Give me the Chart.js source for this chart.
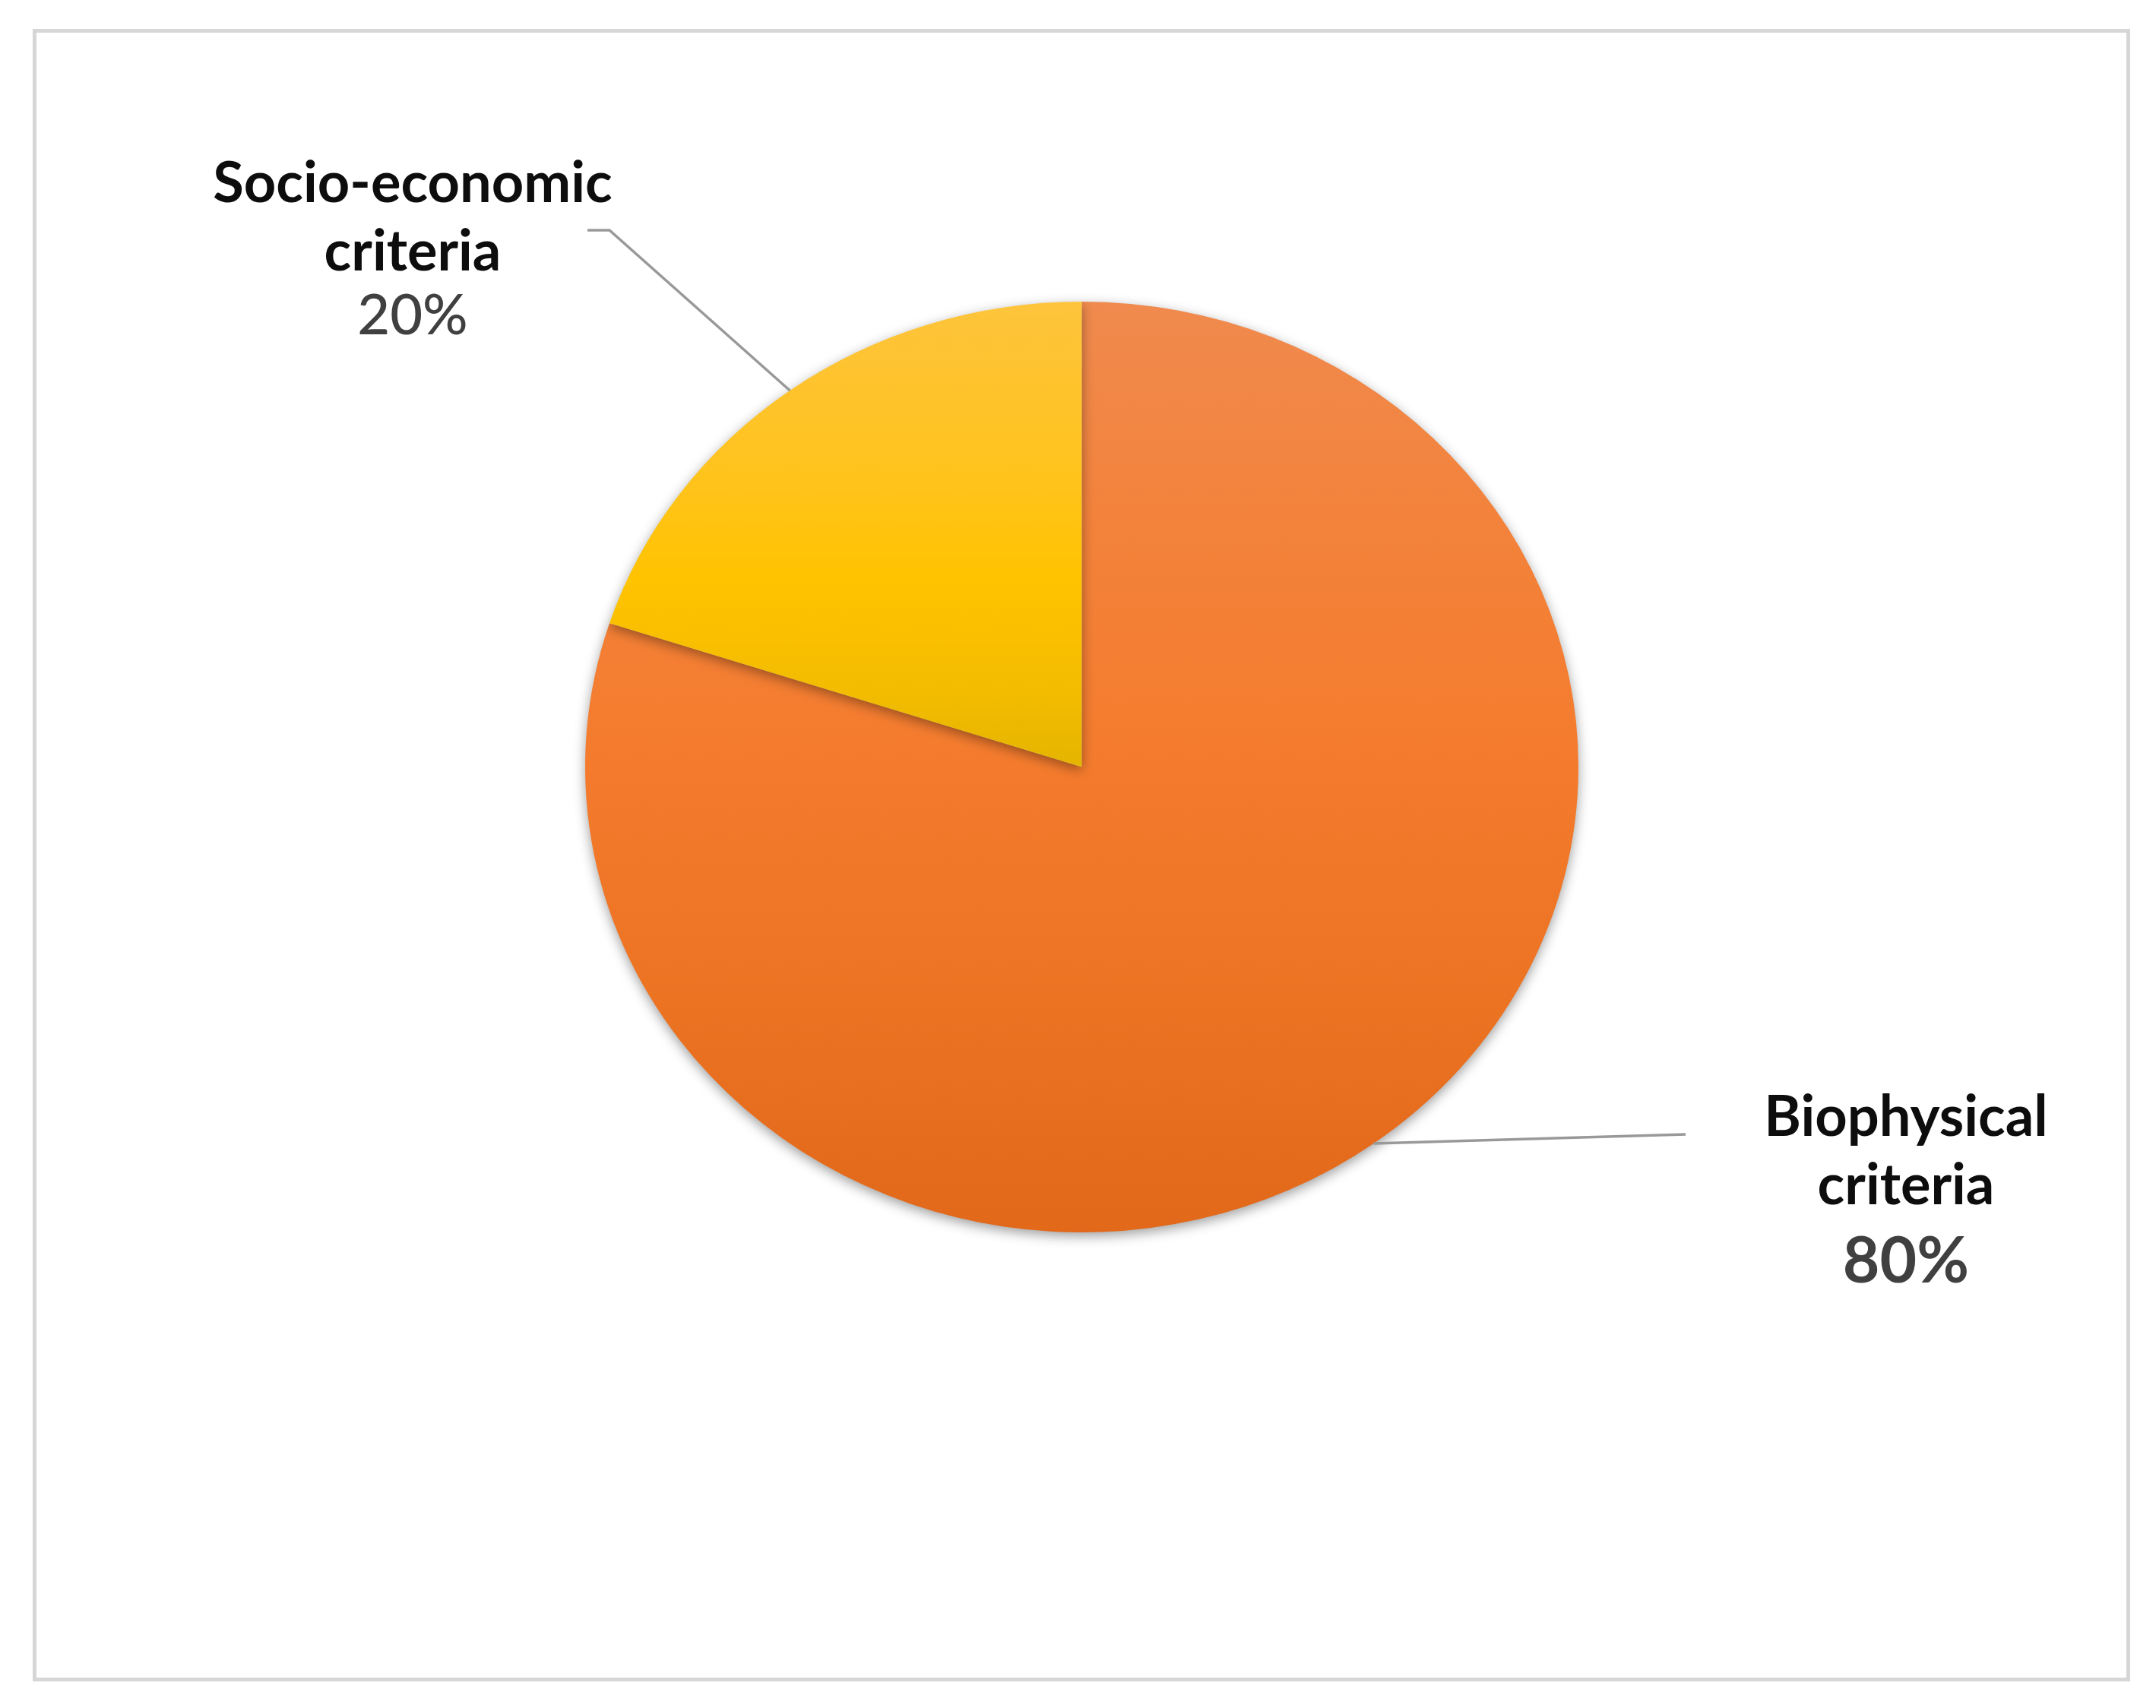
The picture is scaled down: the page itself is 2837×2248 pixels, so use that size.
<!DOCTYPE html>
<html>
<head>
<meta charset="utf-8">
<script src="https://cdn.jsdelivr.net/npm/chart.js@4.4.0/dist/chart.umd.min.js"></script>
<style>
    html, body { margin: 0; padding: 0; background: #fff; }
    #wrap { position: relative; width: 2837px; height: 2248px; }
    #wrap canvas { position: absolute; left: 0; top: 0; }
    #frame {
        position: absolute; left: 43px; top: 38px;
        width: 2760px; height: 2175px; box-sizing: border-box;
        border: 5px solid #d6d6d6; pointer-events: none;
    }
</style>
</head>
<body>
<div id="wrap">
    <canvas id="pieChart" width="2837" height="2248"></canvas>
    <div id="frame"></div>
</div>
<script>
// Data
const categories = ['Biophysical criteria', 'Socio-economic criteria'];
const shares = [80, 20];
const labelLines = [['Biophysical', 'criteria'], ['Socio-economic', 'criteria']];

// Vertical squash of the pie (the original is slightly elliptical)
const squash = 0.9373;

// Gradient stops per slice, over the full pie height
const orangeStops = [[0, '#F08A4E'], [0.25, '#F3823A'], [0.5, '#F47B2D'], [0.75, '#EC7322'], [1, '#E2681A']];
const yellowStops = [[0, '#FEC43C'], [0.2, '#FFC31A'], [0.3, '#FFC300'], [0.42, '#F3BC00'], [0.5, '#E5B400'], [1, '#E5B400']];
const sliceStops = [orangeStops, yellowStops];

// Callout layout, offsets from the pie centre in px
const callouts = [
    { path: [[794.5, 483.5]], textX: 1084.5, baselines: [485.5, 575.5, 678.5], pctFont: 'bold 84px Lato' },
    { path: [[-621.5, -706.5], [-650.5, -706.5]], textX: -880.5, baselines: [-743.5, -653.5, -569.5], pctFont: '500 74px Lato' }
];

function sliceGradient(context) {
    const chart = context.chart;
    const area = chart.chartArea;
    const stops = sliceStops[context.dataIndex] || orangeStops;
    if (!area) return stops[0][1];
    const g = chart.ctx.createLinearGradient(0, area.top, 0, area.bottom);
    stops.forEach(s => g.addColorStop(s[0], s[1]));
    return g;
}

// Squash + shadow around the dataset draw
const ellipsePlugin = {
    id: 'ellipse',
    beforeDatasetsDraw(chart) {
        const arc = chart.getDatasetMeta(0).data[0];
        const ctx = chart.ctx;
        ctx.save();
        ctx.translate(arc.x, arc.y);
        ctx.scale(1, squash);
        ctx.translate(-arc.x, -arc.y);
        ctx.shadowColor = 'rgba(0, 0, 0, 0.38)';
        ctx.shadowBlur = 16;
        ctx.shadowOffsetY = 5;
    },
    afterDatasetsDraw(chart) {
        chart.ctx.restore();
    }
};

// Leader lines and labels
const calloutPlugin = {
    id: 'callouts',
    afterDatasetsDraw(chart) {
        const ctx = chart.ctx;
        const meta = chart.getDatasetMeta(0);
        const total = shares.reduce((a, b) => a + b, 0);
        meta.data.forEach((arc, i) => {
            const p = arc.getProps(['x', 'y', 'startAngle', 'endAngle', 'outerRadius']);
            const mid = (p.startAngle + p.endAngle) / 2;
            const ax = p.x + Math.cos(mid) * p.outerRadius;
            const ay = p.y + Math.sin(mid) * p.outerRadius * squash;
            const c = callouts[i];

            ctx.save();
            ctx.strokeStyle = '#999999';
            ctx.lineWidth = 3.5;
            ctx.beginPath();
            ctx.moveTo(ax, ay);
            c.path.forEach(pt => ctx.lineTo(p.x + pt[0], p.y + pt[1]));
            ctx.stroke();

            ctx.textAlign = 'center';
            ctx.textBaseline = 'alphabetic';
            ctx.fillStyle = '#0d0d0d';
            ctx.font = 'bold 74px Lato';
            labelLines[i].forEach((line, j) => {
                ctx.fillText(line, p.x + c.textX, p.y + c.baselines[j]);
            });
            ctx.fillStyle = '#404040';
            ctx.font = c.pctFont;
            const pct = Math.round(shares[i] / total * 100) + '%';
            ctx.fillText(pct, p.x + c.textX, p.y + c.baselines[2]);
            ctx.restore();
        });
    }
};

const ctx = document.getElementById('pieChart').getContext('2d');
const pieChart = new Chart(ctx, {
    type: 'pie',
    data: {
        labels: categories,
        datasets: [{
            data: shares,
            backgroundColor: sliceGradient,
            borderWidth: 0,
            hoverOffset: 0,
            offset: 0
        }]
    },
    options: {
        responsive: false,
        animation: false,
        layout: {
            padding: { top: 356, bottom: 585, left: 10, right: 0 }
        },
        plugins: {
            legend: { display: false },
            tooltip: { enabled: false }
        }
    },
    plugins: [ellipsePlugin, calloutPlugin]
});
</script>
</body>
</html>
